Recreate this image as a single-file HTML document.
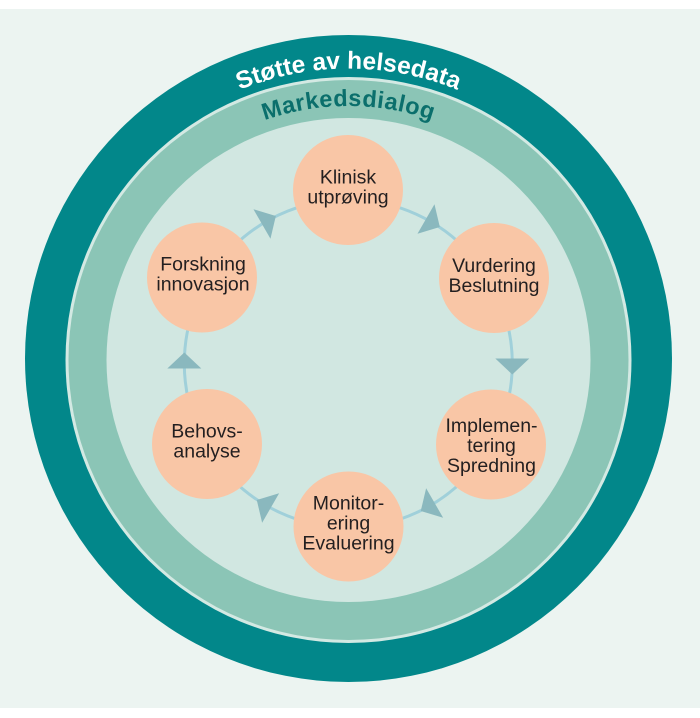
<!DOCTYPE html>
<html>
<head>
<meta charset="utf-8">
<style>
  html, body { margin: 0; padding: 0; background: #ffffff; }
  svg { display: block; }
</style>
</head>
<body>
<svg width="700" height="718" viewBox="0 0 700 718" xmlns="http://www.w3.org/2000/svg">
  <defs>
    <path id="arcOuter" d="M 58.5 358.5 A 290 290 0 0 1 638.5 358.5"/>
    <path id="arcInner" d="M 94.5 360 A 254 254 0 0 1 602.5 360"/>
  </defs>

  <rect x="0" y="0" width="700" height="718" fill="#ffffff"/>
  <rect x="0" y="9" width="700" height="699" fill="#ecf4f1"/>

  <!-- rings -->
  <circle cx="348.5" cy="358.5" r="323.5" fill="#02878a"/>
  <circle cx="348.5" cy="360" r="283" fill="#d3e9e3"/>
  <circle cx="348.5" cy="360" r="280" fill="#8bc5b6"/>
  <circle cx="348.5" cy="360" r="242" fill="#d1e7e1"/>

  <!-- arc labels -->
  <text font-family="'Liberation Sans', Arial, sans-serif" font-weight="bold" font-size="24.5" fill="#ffffff" text-anchor="middle">
    <textPath href="#arcOuter" startOffset="50%">Støtte av helsedata</textPath>
  </text>
  <text font-family="'Liberation Sans', Arial, sans-serif" font-weight="bold" font-size="23.5" letter-spacing="0.5" fill="#0b6f6c" text-anchor="middle">
    <textPath href="#arcInner" startOffset="50%">Markedsdialog</textPath>
  </text>

  <!-- connector circle -->
  <circle cx="348.3" cy="363.5" r="164" fill="none" stroke="#a0d0da" stroke-width="3"/>

  <!-- arrows (clockwise) -->
  <g fill="#8ab8be">
    <path d="M -5 -17 L 11 0 L -5 17 Z" transform="translate(266.3 221.5) rotate(-30)"/>
    <path d="M -5 -17 L 11 0 L -5 17 Z" transform="translate(430.3 221.5) rotate(30)"/>
    <path d="M -5 -17 L 11 0 L -5 17 Z" transform="translate(512.3 363.5) rotate(90)"/>
    <path d="M -5 -17 L 11 0 L -5 17 Z" transform="translate(430.3 505.5) rotate(150)"/>
    <path d="M -5 -17 L 11 0 L -5 17 Z" transform="translate(266.3 505.5) rotate(210)"/>
    <path d="M -5 -17 L 11 0 L -5 17 Z" transform="translate(184.3 363.5) rotate(-90)"/>
  </g>

  <!-- nodes -->
  <g fill="#f9c6a6">
    <circle cx="348" cy="190" r="55"/>
    <circle cx="494" cy="278" r="55"/>
    <circle cx="491" cy="444.5" r="55"/>
    <circle cx="348.5" cy="526.5" r="55"/>
    <circle cx="207" cy="444" r="55"/>
    <circle cx="202" cy="277.5" r="55"/>
  </g>

  <g font-family="'Liberation Sans', Arial, sans-serif" font-size="19.5" fill="#231f20" text-anchor="middle">
    <text x="348" y="183.5">Klinisk</text>
    <text x="348" y="203.5">utprøving</text>

    <text x="494" y="272">Vurdering</text>
    <text x="494" y="292">Beslutning</text>

    <text x="491.5" y="432">Implemen-</text>
    <text x="491.5" y="452">tering</text>
    <text x="491.5" y="472">Spredning</text>

    <text x="348.5" y="509.5">Monitor-</text>
    <text x="348.5" y="529.5">ering</text>
    <text x="348.5" y="549.5">Evaluering</text>

    <text x="207" y="437.5">Behovs-</text>
    <text x="207" y="457.5">analyse</text>

    <text x="203" y="270.5">Forskning</text>
    <text x="203" y="290.5">innovasjon</text>
  </g>
</svg>
</body>
</html>
